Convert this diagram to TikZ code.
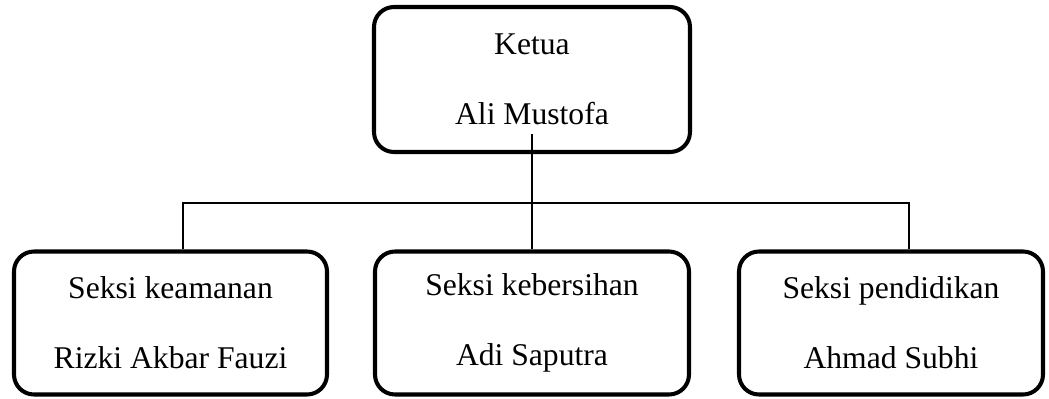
\documentclass[tikz,border=0pt]{standalone}
\usepackage{fontspec}
\setmainfont{Liberation Serif}
\begin{document}
\begin{tikzpicture}[
  kotak/.style={draw,rounded corners=0.4cm,line width=2.3pt,align=center,
    minimum height=2.86cm,inner sep=0pt,font=\fontsize{18}{40}\selectfont},
  garis/.style={line width=1.1pt}]
\useasboundingbox (0,0) rectangle (20.98,-7.96);
\node[kotak,minimum width=6.32cm,minimum height=2.9cm] (ketua) at (10.64,-1.59) {Ketua\\Ali Mustofa};
\node[kotak,minimum width=6.26cm] (keamanan) at (3.41,-6.46) {Seksi keamanan\\Rizki Akbar Fauzi};
\node[kotak,minimum width=6.28cm] (kebersihan) at (10.64,-6.46) {Seksi kebersihan\\Adi Saputra};
\node[kotak,minimum width=6.08cm] (pendidikan) at (17.82,-6.46) {Seksi pendidikan\\Ahmad Subhi};
\coordinate (busL) at (3.66,-4.06);
\coordinate (busR) at (18.18,-4.06);
\draw[garis] ([yshift=0.4cm]ketua.south) -- (kebersihan.north);
\draw[garis] (busL |- keamanan.north) -- (busL) -- (busR) -- (busR |- pendidikan.north);
\end{tikzpicture}
\end{document}
